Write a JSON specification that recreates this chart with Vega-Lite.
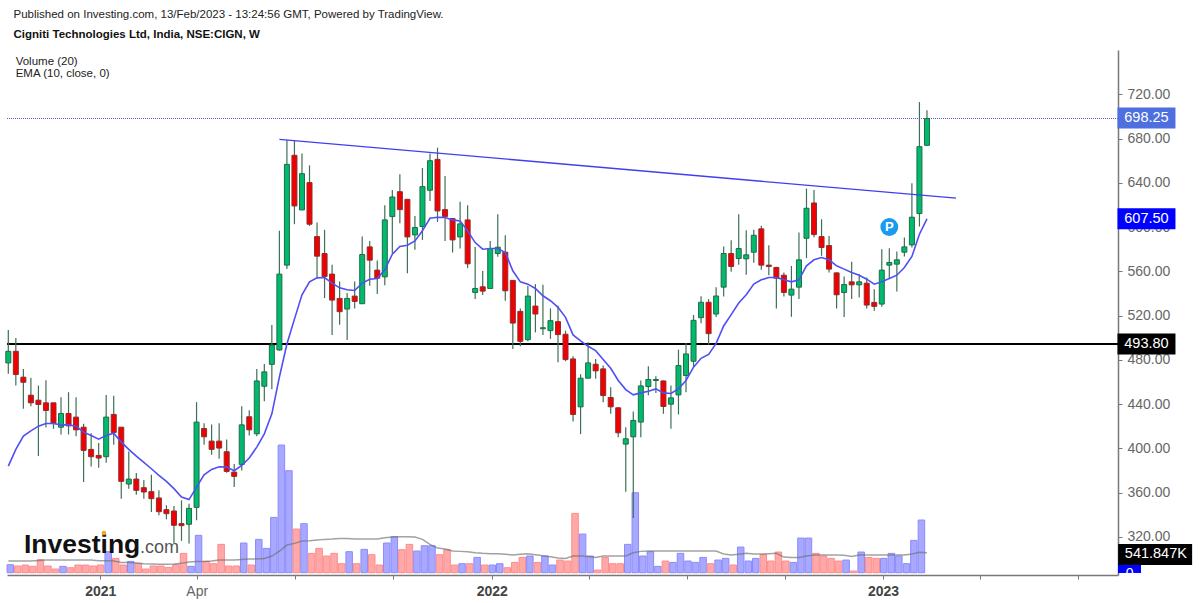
{
  "$schema": "https://vega.github.io/schema/vega-lite/v6.json",
  "width": 1111,
  "height": 525,
  "autosize": "none",
  "padding": {"left": 7, "top": 50, "right": 82, "bottom": 28},
  "background": "white",
  "datasets": {
    "candles": [
      {"bar":0,"open":477.3,"high":507,"low":467.4,"close":487.8,"volume":217,"ema":384,"volma":316},
      {"bar":1,"open":487.8,"high":499.9,"low":456.8,"close":466.8,"volume":181,"ema":399.1,"volma":316},
      {"bar":2,"open":464.4,"high":471.9,"low":435.8,"close":459.8,"volume":208,"ema":411.1,"volma":316},
      {"bar":3,"open":448.1,"high":463.8,"low":438.2,"close":441.2,"volume":172,"ema":415.9,"volma":316},
      {"bar":4,"open":443.6,"high":456.8,"low":393.1,"close":439.7,"volume":352,"ema":420.1,"volma":334},
      {"bar":5,"open":441.2,"high":461.7,"low":418.9,"close":434.3,"volume":181,"ema":422.5,"volma":343},
      {"bar":6,"open":441.2,"high":441.2,"low":417.7,"close":422.8,"volume":99,"ema":422.5,"volma":343},
      {"bar":7,"open":419.2,"high":446.3,"low":412.6,"close":431.6,"volume":172,"ema":421.3,"volma":343},
      {"bar":8,"open":431.6,"high":450.8,"low":412.6,"close":420.4,"volume":135,"ema":421.3,"volma":343},
      {"bar":9,"open":428.3,"high":446.3,"low":411,"close":416.8,"volume":208,"ema":420.1,"volma":343},
      {"bar":10,"open":419.2,"high":422.2,"low":369.6,"close":398.2,"volume":208,"ema":414.7,"volma":343},
      {"bar":11,"open":399.1,"high":413.8,"low":383.7,"close":392.5,"volume":181,"ema":411.7,"volma":343},
      {"bar":12,"open":393.7,"high":405,"low":382.5,"close":391.3,"volume":208,"ema":408.4,"volma":325},
      {"bar":13,"open":392.5,"high":448.4,"low":387.1,"close":428.3,"volume":569,"ema":411.7,"volma":325},
      {"bar":14,"open":430.7,"high":447.5,"low":403.3,"close":414.4,"volume":388,"ema":413.8,"volma":316},
      {"bar":15,"open":419.2,"high":419.2,"low":354.6,"close":370.2,"volume":208,"ema":405.7,"volma":280},
      {"bar":16,"open":367.8,"high":397.3,"low":363.6,"close":372.3,"volume":307,"ema":399.1,"volma":280},
      {"bar":17,"open":372.3,"high":377.7,"low":358.2,"close":362.1,"volume":253,"ema":393.1,"volma":262},
      {"bar":18,"open":364.5,"high":371.4,"low":354.6,"close":360.6,"volume":99,"ema":387.4,"volma":244},
      {"bar":19,"open":360.9,"high":376.2,"low":342.5,"close":354.6,"volume":181,"ema":381.6,"volma":235},
      {"bar":20,"open":355.2,"high":362.1,"low":339.5,"close":342.8,"volume":181,"ema":375.6,"volma":226},
      {"bar":21,"open":344.6,"high":348.6,"low":335.9,"close":341,"volume":144,"ema":370.2,"volma":226},
      {"bar":22,"open":343.4,"high":348,"low":314,"close":330.5,"volume":217,"ema":363.6,"volma":235},
      {"bar":23,"open":332,"high":353,"low":316.4,"close":330.2,"volume":524,"ema":356.1,"volma":253},
      {"bar":24,"open":331.4,"high":350,"low":314,"close":345.8,"volume":172,"ema":353.7,"volma":289},
      {"bar":25,"open":346.7,"high":441.8,"low":335,"close":423.8,"volume":1011,"ema":365,"volma":307},
      {"bar":26,"open":418,"high":422.8,"low":403.3,"close":410.5,"volume":307,"ema":376.2,"volma":307},
      {"bar":27,"open":406.6,"high":421.6,"low":394.3,"close":399.1,"volume":244,"ema":381,"volma":316},
      {"bar":28,"open":406.6,"high":422.8,"low":390.7,"close":400.3,"volume":768,"ema":383.4,"volma":343},
      {"bar":29,"open":397,"high":408.1,"low":378,"close":379.2,"volume":181,"ema":383.1,"volma":343},
      {"bar":30,"open":378.6,"high":386,"low":365.1,"close":374.7,"volume":181,"ema":379.8,"volma":343},
      {"bar":31,"open":385.5,"high":438.2,"low":380.1,"close":421.3,"volume":804,"ema":384.6,"volma":361},
      {"bar":32,"open":428.6,"high":434.6,"low":411.7,"close":416.8,"volume":208,"ema":391.3,"volma":370},
      {"bar":33,"open":413.2,"high":471.9,"low":411.1,"close":461,"volume":903,"ema":401.2,"volma":370},
      {"bar":34,"open":456.2,"high":476.4,"low":442.7,"close":469.2,"volume":659,"ema":413.2,"volma":388},
      {"bar":35,"open":476,"high":511.6,"low":453.5,"close":493.5,"volume":1499,"ema":431.3,"volma":452},
      {"bar":36,"open":489,"high":596.7,"low":488.4,"close":557.6,"volume":3458,"ema":464.4,"volma":587},
      {"bar":37,"open":565.7,"high":678.8,"low":562.1,"close":656.8,"volume":2763,"ema":494.4,"volma":749},
      {"bar":38,"open":665,"high":677.9,"low":602.7,"close":619.2,"volume":1183,"ema":516.9,"volma":795},
      {"bar":39,"open":615.6,"high":666.7,"low":615.6,"close":648.4,"volume":1327,"ema":538.9,"volma":858},
      {"bar":40,"open":640.3,"high":655.9,"low":601.2,"close":602.7,"volume":524,"ema":550.6,"volma":867},
      {"bar":41,"open":591.5,"high":604.2,"low":554.5,"close":573.8,"volume":659,"ema":554.2,"volma":885},
      {"bar":42,"open":576.2,"high":597.6,"low":535.9,"close":555.4,"volume":452,"ema":554.5,"volma":903},
      {"bar":43,"open":557.6,"high":566,"low":502.5,"close":534.1,"volume":524,"ema":549.4,"volma":912},
      {"bar":44,"open":535.6,"high":550.9,"low":511.8,"close":523.6,"volume":244,"ema":545.2,"volma":930},
      {"bar":45,"open":526,"high":540.4,"low":498,"close":535.6,"volume":569,"ema":543.4,"volma":930},
      {"bar":46,"open":537.7,"high":550.9,"low":526.6,"close":532.9,"volume":244,"ema":542.8,"volma":912},
      {"bar":47,"open":530.8,"high":591.5,"low":530.8,"close":575.3,"volume":632,"ema":549.4,"volma":912},
      {"bar":48,"open":582.2,"high":587.6,"low":547,"close":570.2,"volume":488,"ema":553,"volma":912},
      {"bar":49,"open":561.2,"high":569.9,"low":539.5,"close":553.9,"volume":208,"ema":553.6,"volma":912},
      {"bar":50,"open":555.1,"high":619.8,"low":547.6,"close":606.6,"volume":804,"ema":561.5,"volma":948},
      {"bar":51,"open":609.6,"high":633.7,"low":576.5,"close":627.3,"volume":975,"ema":575.6,"volma":966},
      {"bar":52,"open":632.1,"high":647.8,"low":603.6,"close":615.9,"volume":623,"ema":582.5,"volma":975},
      {"bar":53,"open":625.2,"high":625.2,"low":558.4,"close":591.2,"volume":768,"ema":583.7,"volma":975},
      {"bar":54,"open":593,"high":610.2,"low":579.5,"close":599.7,"volume":587,"ema":587.6,"volma":966},
      {"bar":55,"open":600.6,"high":653.5,"low":588.5,"close":636.7,"volume":731,"ema":596.7,"volma":903},
      {"bar":56,"open":633.4,"high":666.7,"low":623.7,"close":660.1,"volume":731,"ema":608.1,"volma":768},
      {"bar":57,"open":661.3,"high":671.9,"low":604.8,"close":614.7,"volume":488,"ema":609,"volma":668},
      {"bar":58,"open":615.9,"high":646.3,"low":587.6,"close":609.6,"volume":623,"ema":608.7,"volma":641},
      {"bar":59,"open":607.8,"high":607.8,"low":577.1,"close":588.5,"volume":208,"ema":606.6,"volma":587},
      {"bar":60,"open":591.2,"high":623.1,"low":580.7,"close":603,"volume":244,"ema":605.7,"volma":578},
      {"bar":61,"open":606.6,"high":619.8,"low":563,"close":566.9,"volume":244,"ema":596.7,"volma":569},
      {"bar":62,"open":541,"high":582.2,"low":535,"close":544.6,"volume":415,"ema":586.1,"volma":542},
      {"bar":63,"open":546.1,"high":560.3,"low":538.6,"close":542.2,"volume":208,"ema":580.1,"volma":524},
      {"bar":64,"open":544.6,"high":587.6,"low":544.6,"close":580.7,"volume":208,"ema":580.7,"volma":515},
      {"bar":65,"open":576.2,"high":611.7,"low":573.2,"close":581.9,"volume":244,"ema":580.7,"volma":515},
      {"bar":66,"open":577.4,"high":592.7,"low":533.5,"close":542.5,"volume":135,"ema":577.1,"volma":497},
      {"bar":67,"open":551.9,"high":551.9,"low":489.9,"close":513.3,"volume":280,"ema":560.6,"volma":479},
      {"bar":68,"open":523.9,"high":526.6,"low":492.3,"close":496.8,"volume":415,"ema":550.6,"volma":497},
      {"bar":69,"open":498.3,"high":547,"low":496.8,"close":537.7,"volume":452,"ema":548.5,"volma":515},
      {"bar":70,"open":528.7,"high":548.5,"low":504.9,"close":521.5,"volume":280,"ema":544.6,"volma":488},
      {"bar":71,"open":508.2,"high":547.9,"low":502.5,"close":509.1,"volume":452,"ema":538,"volma":461},
      {"bar":72,"open":506.5,"high":526.6,"low":499,"close":515.5,"volume":208,"ema":533.5,"volma":433},
      {"bar":73,"open":514.6,"high":529,"low":477.9,"close":502.9,"volume":343,"ema":527.5,"volma":397},
      {"bar":74,"open":503.2,"high":506.5,"low":478.8,"close":480.3,"volume":316,"ema":518.5,"volma":388},
      {"bar":75,"open":480.9,"high":483.3,"low":424.4,"close":430.7,"volume":1607,"ema":502.6,"volma":452},
      {"bar":76,"open":437.6,"high":467.1,"low":412.9,"close":463.5,"volume":1047,"ema":497.2,"volma":452},
      {"bar":77,"open":463.5,"high":496,"low":463.5,"close":477.3,"volume":452,"ema":492.3,"volma":442},
      {"bar":78,"open":476.1,"high":480.9,"low":462.9,"close":470.1,"volume":72,"ema":488.4,"volma":415},
      {"bar":79,"open":471.9,"high":474.9,"low":441.8,"close":447.8,"volume":415,"ema":480.3,"volma":452},
      {"bar":80,"open":446,"high":455.3,"low":431.3,"close":437.6,"volume":244,"ema":472.5,"volma":452},
      {"bar":81,"open":436.7,"high":437.3,"low":410.2,"close":414.1,"volume":244,"ema":461.4,"volma":452},
      {"bar":82,"open":403.9,"high":419.2,"low":360.9,"close":408.7,"volume":768,"ema":453.2,"volma":452},
      {"bar":83,"open":410.5,"high":433.4,"low":337,"close":425.3,"volume":2167,"ema":448.4,"volma":542},
      {"bar":84,"open":423.8,"high":461.4,"low":410.2,"close":456.5,"volume":452,"ema":450.2,"volma":578},
      {"bar":85,"open":455.9,"high":474.3,"low":448,"close":462.3,"volume":569,"ema":451.7,"volma":587},
      {"bar":86,"open":461.4,"high":465.3,"low":450.2,"close":462.3,"volume":172,"ema":453.8,"volma":587},
      {"bar":87,"open":461,"high":461.4,"low":431.3,"close":437.9,"volume":316,"ema":450.2,"volma":587},
      {"bar":88,"open":440,"high":456.8,"low":417.7,"close":445.7,"volume":280,"ema":449.6,"volma":587},
      {"bar":89,"open":448.4,"high":489.3,"low":430.7,"close":474.9,"volume":524,"ema":453.8,"volma":587},
      {"bar":90,"open":465.9,"high":495.3,"low":450.8,"close":485.4,"volume":316,"ema":461.4,"volma":587},
      {"bar":91,"open":478.8,"high":520.6,"low":473.4,"close":515.8,"volume":280,"ema":473.4,"volma":587},
      {"bar":92,"open":518.2,"high":537.5,"low":513.1,"close":532.1,"volume":415,"ema":481.5,"volma":587},
      {"bar":93,"open":532.1,"high":535,"low":493.8,"close":503.8,"volume":244,"ema":485,"volma":587},
      {"bar":94,"open":521.5,"high":545.6,"low":518.8,"close":537.8,"volume":343,"ema":495,"volma":587},
      {"bar":95,"open":545.8,"high":582.5,"low":537.4,"close":576.2,"volume":388,"ema":510.7,"volma":506},
      {"bar":96,"open":576.2,"high":588.2,"low":559.7,"close":564.5,"volume":208,"ema":521,"volma":479},
      {"bar":97,"open":571.7,"high":611.7,"low":566,"close":580.7,"volume":695,"ema":531.5,"volma":497},
      {"bar":98,"open":571.4,"high":597.3,"low":557,"close":575,"volume":316,"ema":539,"volma":524},
      {"bar":99,"open":577.4,"high":597.6,"low":567.8,"close":592.7,"volume":388,"ema":548.5,"volma":506},
      {"bar":100,"open":598.5,"high":601.2,"low":561.5,"close":565.7,"volume":488,"ema":552.4,"volma":506},
      {"bar":101,"open":565.7,"high":583.7,"low":556.6,"close":564.5,"volume":316,"ema":554.5,"volma":515},
      {"bar":102,"open":563.6,"high":564.2,"low":526.6,"close":553.9,"volume":560,"ema":554.5,"volma":524},
      {"bar":103,"open":556.6,"high":559,"low":537.4,"close":541,"volume":316,"ema":552.4,"volma":424},
      {"bar":104,"open":538.6,"high":565,"low":519,"close":544,"volume":280,"ema":550.6,"volma":415},
      {"bar":105,"open":545.8,"high":595.1,"low":535,"close":570.5,"volume":939,"ema":552.4,"volma":415},
      {"bar":106,"open":590,"high":634.9,"low":572,"close":617.1,"volume":939,"ema":565.1,"volma":452},
      {"bar":107,"open":621.9,"high":633.7,"low":590.9,"close":593.3,"volume":524,"ema":570.5,"volma":479},
      {"bar":108,"open":591.5,"high":607.2,"low":574.1,"close":581.6,"volume":452,"ema":572.6,"volma":479},
      {"bar":109,"open":583.4,"high":592.1,"low":559,"close":562.1,"volume":388,"ema":570.5,"volma":479},
      {"bar":110,"open":558.7,"high":559,"low":526.6,"close":538.9,"volume":316,"ema":565.1,"volma":479},
      {"bar":111,"open":541,"high":555.4,"low":518.7,"close":548.2,"volume":343,"ema":562.1,"volma":470},
      {"bar":112,"open":550.6,"high":568.7,"low":535,"close":547.9,"volume":45,"ema":559,"volma":442},
      {"bar":113,"open":547.9,"high":557.5,"low":536.5,"close":550.6,"volume":560,"ema":556.6,"volma":479},
      {"bar":114,"open":549.4,"high":554.5,"low":526.6,"close":529.6,"volume":415,"ema":553,"volma":479},
      {"bar":115,"open":532,"high":544,"low":524.5,"close":528.4,"volume":388,"ema":548.5,"volma":479},
      {"bar":116,"open":530.5,"high":580.1,"low":528.1,"close":561.2,"volume":388,"ema":550.6,"volma":479},
      {"bar":117,"open":565.7,"high":581,"low":554,"close":568.1,"volume":524,"ema":553.6,"volma":479},
      {"bar":118,"open":566.6,"high":578,"low":541.9,"close":570.5,"volume":452,"ema":556.6,"volma":479},
      {"bar":119,"open":577.4,"high":590.6,"low":573.5,"close":582.2,"volume":244,"ema":563.6,"volma":479},
      {"bar":120,"open":584,"high":639.7,"low":581.6,"close":609,"volume":876,"ema":573.5,"volma":506},
      {"bar":121,"open":612.3,"high":713.1,"low":600.6,"close":672.8,"volume":1427,"ema":593.6,"volma":551},
      {"bar":122,"open":674,"high":705.8,"low":674,"close":698.25,"ema":607.5,"volma":542}
    ]
  },
  "data": {"name": "candles"},
  "layer": [
    {
      "layer": [
        {
          "mark": {"type": "bar", "size": 6.5, "xOffset": 2, "strokeWidth": 1},
          "encoding": {
            "x": {
              "field": "bar",
              "type": "quantitative",
              "scale": {"domain": [-0.173, 147.37], "nice": false, "zero": false, "padding": 0},
              "axis": {
                "title": null,
                "grid": false,
                "values": [12.22, 25.02, 38.07, 51.09, 64.2, 77.12, 90.13, 103.15, 116.17, 129, 142.06],
                "labelExpr": "datum.value==12.22?'2021':datum.value==25.02?'Apr':datum.value==64.2?'2022':datum.value==116.17?'2023':''",
                "labelOverlap": false,
                "labelFont": "Liberation Sans",
                "labelFontSize": 14,
                "labelFontWeight": {"condition": {"test": "datum.value==25.02", "value": "normal"}, "value": "bold"},
                "labelColor": {"condition": {"test": "datum.value==25.02", "value": "#666666"}, "value": "#444444"},
                "labelPadding": 5,
                "domainColor": "#787878",
                "domainWidth": 1.5,
                "tickColor": "#787878",
                "tickSize": 4
              }
            },
            "y": {
              "field": "volume",
              "type": "quantitative",
              "scale": {"domain": [-62, 14160], "nice": false, "zero": false},
              "axis": null
            },
            "fill": {"condition": {"test": "datum.close>=datum.open", "value": "#a8a8ff"}, "value": "#ffa8a8"},
            "stroke": {"condition": {"test": "datum.close>=datum.open", "value": "#8a8aff"}, "value": "#ff8a8a"}
          }
        },
        {
          "mark": {"type": "line", "color": "#707070", "opacity": 0.65, "strokeWidth": 1.5},
          "encoding": {
            "x": {"field": "bar", "type": "quantitative"},
            "y": {"field": "volma", "type": "quantitative", "axis": null}
          }
        }
      ]
    },
    {
      "layer": [
        {
          "data": {"values": [{"price": 698.25}]},
          "mark": {"type": "rule", "color": "#5a5ac8", "strokeWidth": 1, "strokeDash": [1, 1]},
          "encoding": {
            "y": {
              "field": "price",
              "type": "quantitative",
              "scale": {"domain": [285.55, 760.2], "nice": false, "zero": false},
              "axis": {
                "orient": "right",
                "title": null,
                "grid": false,
                "values": [320, 360, 400, 440, 480, 520, 560, 600, 640, 680, 720],
                "format": ".2f",
                "labelFont": "Liberation Sans",
                "labelFontSize": 14,
                "labelColor": "#666666",
                "labelPadding": 5,
                "domainColor": "#787878",
                "domainWidth": 1.5,
                "tickColor": "#787878",
                "tickSize": 4
              }
            }
          }
        },
        {
          "data": {"values": [{"price": 494.5}]},
          "mark": {"type": "rule", "color": "#000000", "strokeWidth": 2},
          "encoding": {"y": {"field": "price", "type": "quantitative"}}
        },
        {
          "mark": {"type": "rule", "color": "#3f6f55", "strokeWidth": 1.2},
          "encoding": {
            "x": {"field": "bar", "type": "quantitative"},
            "y": {"field": "low", "type": "quantitative"},
            "y2": {"field": "high"}
          }
        },
        {
          "mark": {"type": "bar", "size": 5, "strokeWidth": 1, "orient": "vertical"},
          "encoding": {
            "x": {"field": "bar", "type": "quantitative"},
            "y": {"field": "open", "type": "quantitative"},
            "y2": {"field": "close"},
            "fill": {"condition": {"test": "datum.close>=datum.open", "value": "#00bb6e"}, "value": "#f00000"},
            "stroke": {"condition": {"test": "datum.close>=datum.open", "value": "#1f6b47"}, "value": "#8c2f2f"}
          }
        },
        {
          "mark": {"type": "line", "color": "#4f4ff5", "strokeWidth": 1.6},
          "encoding": {
            "x": {"field": "bar", "type": "quantitative"},
            "y": {"field": "ema", "type": "quantitative"}
          }
        },
        {
          "data": {"values": [{"bar": 36, "price": 679.4}, {"bar": 125.86, "price": 626.2}]},
          "mark": {"type": "line", "color": "#3f3ff0", "strokeWidth": 1.3},
          "encoding": {
            "x": {"field": "bar", "type": "quantitative"},
            "y": {"field": "price", "type": "quantitative"}
          }
        },
        {
          "data": {"values": [{"bar": 117, "price": 600.2, "label": "P"}]},
          "layer": [
            {
              "mark": {"type": "circle", "size": 320, "color": "#1a9bf0", "opacity": 1},
              "encoding": {
                "x": {"field": "bar", "type": "quantitative"},
                "y": {"field": "price", "type": "quantitative"}
              }
            },
            {
              "mark": {"type": "text", "font": "Liberation Sans", "fontSize": 13, "fontWeight": "bold", "color": "white"},
              "encoding": {
                "x": {"field": "bar", "type": "quantitative"},
                "y": {"field": "price", "type": "quantitative"},
                "text": {"field": "label"}
              }
            }
          ]
        },
        {
          "data": {"values": [{"bar": 2.08, "price": 305.4, "label": "Investing"}]},
          "mark": {"type": "text", "font": "Liberation Sans", "fontSize": 26.5, "fontWeight": "bold", "color": "#111111", "align": "left", "baseline": "alphabetic"},
          "encoding": {
            "x": {"field": "bar", "type": "quantitative"},
            "y": {"field": "price", "type": "quantitative"},
            "text": {"field": "label"}
          }
        },
        {
          "data": {"values": [{"bar": 17.5, "price": 305.4, "label": ".com"}]},
          "mark": {"type": "text", "font": "Liberation Sans", "fontSize": 18, "color": "#555555", "align": "left", "baseline": "alphabetic"},
          "encoding": {
            "x": {"field": "bar", "type": "quantitative"},
            "y": {"field": "price", "type": "quantitative"},
            "text": {"field": "label"}
          }
        },
        {
          "data": {"values": [{"bar": 12.7, "price": 323.5}]},
          "mark": {"type": "circle", "size": 22, "color": "#f5a623", "opacity": 1},
          "encoding": {
            "x": {"field": "bar", "type": "quantitative"},
            "y": {"field": "price", "type": "quantitative"}
          }
        },
        {
          "data": {"values": [{"bar": 148.9, "price": 291}]},
          "mark": {"type": "tick", "orient": "horizontal", "size": 23, "thickness": 8, "color": "#0000ff", "opacity": 1},
          "encoding": {
            "x": {"field": "bar", "type": "quantitative"},
            "y": {"field": "price", "type": "quantitative"}
          }
        },
        {
          "data": {"values": [{"bar": 148.9, "price": 286.5, "label": "0"}]},
          "mark": {"type": "text", "font": "Liberation Sans", "fontSize": 14, "color": "white"},
          "encoding": {
            "x": {"field": "bar", "type": "quantitative"},
            "y": {"field": "price", "type": "quantitative"},
            "text": {"field": "label"}
          }
        },
        {
          "data": {"values": [{"bar": 152.3, "price": 304.1}]},
          "mark": {"type": "tick", "orient": "horizontal", "size": 74, "thickness": 21, "color": "#000000", "opacity": 1},
          "encoding": {
            "x": {"field": "bar", "type": "quantitative"},
            "y": {"field": "price", "type": "quantitative"}
          }
        },
        {
          "data": {"values": [{"bar": 152.4, "price": 304.1, "label": "541.847K"}]},
          "mark": {"type": "text", "font": "Liberation Sans", "fontSize": 14.5, "color": "white"},
          "encoding": {
            "x": {"field": "bar", "type": "quantitative"},
            "y": {"field": "price", "type": "quantitative"},
            "text": {"field": "label"}
          }
        },
        {
          "data": {
            "values": [
              {"bar": 151.15, "price": 698.75, "label": "698.25", "series": "last"},
              {"bar": 151.15, "price": 607.6, "label": "607.50", "series": "ema"},
              {"bar": 151.15, "price": 494.5, "label": "493.80", "series": "level"}
            ]
          },
          "layer": [
            {
              "mark": {"type": "tick", "orient": "horizontal", "size": 58, "thickness": 21, "opacity": 1},
              "encoding": {
                "x": {"field": "bar", "type": "quantitative"},
                "y": {"field": "price", "type": "quantitative"},
                "color": {
                  "field": "series",
                  "type": "nominal",
                  "legend": null,
                  "scale": {"domain": ["last", "ema", "level"], "range": ["#4d6fe0", "#0000ff", "#000000"]}
                }
              }
            },
            {
              "mark": {"type": "text", "font": "Liberation Sans", "fontSize": 14.5, "color": "white"},
              "encoding": {
                "x": {"field": "bar", "type": "quantitative"},
                "y": {"field": "price", "type": "quantitative"},
                "text": {"field": "label"}
              }
            }
          ]
        },
        {
          "data": {"values": [{"bar": 0.69, "price": 792, "label": "Published on Investing.com, 13/Feb/2023 - 13:24:56 GMT, Powered by TradingView."}]},
          "mark": {"type": "text", "font": "Liberation Sans", "fontSize": 11.5, "color": "#222222", "align": "left"},
          "encoding": {
            "x": {"field": "bar", "type": "quantitative"},
            "y": {"field": "price", "type": "quantitative"},
            "text": {"field": "label"}
          }
        },
        {
          "data": {"values": [{"bar": 0.69, "price": 774, "label": "Cigniti Technologies Ltd, India, NSE:CIGN, W"}]},
          "mark": {"type": "text", "font": "Liberation Sans", "fontSize": 11.5, "fontWeight": "bold", "color": "#111111", "align": "left"},
          "encoding": {
            "x": {"field": "bar", "type": "quantitative"},
            "y": {"field": "price", "type": "quantitative"},
            "text": {"field": "label"}
          }
        },
        {
          "data": {"values": [{"bar": 0.98, "price": 749.1, "label": "Volume (20)"}, {"bar": 0.98, "price": 738.7, "label": "EMA (10, close, 0)"}]},
          "mark": {"type": "text", "font": "Liberation Sans", "fontSize": 11.5, "color": "#222222", "align": "left"},
          "encoding": {
            "x": {"field": "bar", "type": "quantitative"},
            "y": {"field": "price", "type": "quantitative"},
            "text": {"field": "label"}
          }
        }
      ]
    }
  ],
  "resolve": {"scale": {"y": "independent"}},
  "config": {"view": {"stroke": null}}
}
